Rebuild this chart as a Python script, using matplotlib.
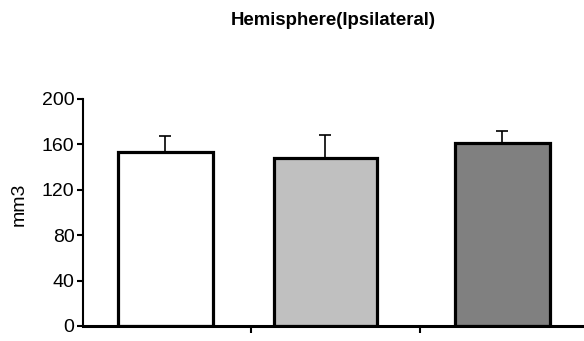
import numpy as np
import matplotlib
matplotlib.use("Agg")
import matplotlib.pyplot as plt

plt.rcParams['font.family'] = ['Liberation Sans', 'DejaVu Sans']

# data
groups = ["Vehicle", "Low dose", "High dose"]
volume = [153, 148, 161]
sem = [14, 20, 11]
colors = ["#FFFFFF", "#C0C0C0", "#808080"]

# layout of the bars (the middle one sits a bit left and is wider in the original)
bar_shift = [-0.01, -0.06, -0.01]
bar_width = [0.565, 0.61, 0.565]

fig = plt.figure(figsize=(5.84, 3.41), dpi=100)
ax = fig.add_axes([0.142, 0.044, 0.865, 0.666])

x = np.arange(len(groups))
xb = x + np.array(bar_shift)
ax.bar(xb, volume, width=bar_width, color=colors, edgecolor="black", linewidth=2.3, zorder=2)
ax.errorbar(xb, volume, yerr=[[0] * len(sem), sem], fmt="none", ecolor="black",
            elinewidth=1.2, capsize=4, capthick=1.2, zorder=1)

ax.set_xlim(-0.5, 2.5)
ax.set_ylim(0, 200)
ax.set_yticks([0, 40, 80, 120, 160, 200])
ax.set_ylabel("mm3", fontsize=14)
ax.yaxis.set_label_coords(-0.109, 0.535)
ax.tick_params(axis="y", labelsize=14, width=1.5, length=4, pad=2)

# category boundaries as major ticks, names as minor ticks
ax.set_xticks([0.5, 1.5, 2.5])
ax.set_xticklabels([])
ax.set_xticks(x, minor=True)
ax.set_xticklabels(groups, minor=True, fontsize=14)
ax.tick_params(axis="x", which="major", width=1.5, length=5)
ax.tick_params(axis="x", which="minor", length=0, pad=10.5)

for s in ["top", "right"]:
    ax.spines[s].set_visible(False)
ax.spines["left"].set_linewidth(1.5)
ax.spines["bottom"].set_linewidth(2.2)

fig.text(0.57, 0.94, "Hemisphere(Ipsilateral)", ha="center", va="center",
         fontsize=13.4, fontweight="bold")

fig.savefig("out.png", dpi=100)
